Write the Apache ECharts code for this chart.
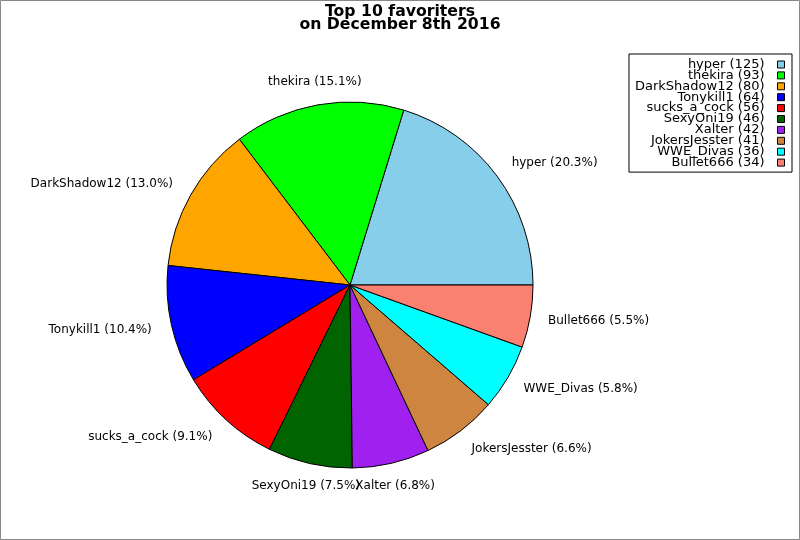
<!DOCTYPE html>
<html>
<head>
<meta charset="utf-8">
<script src="https://cdn.jsdelivr.net/npm/echarts@6/dist/echarts.min.js"></script>
<style>
html,body{margin:0;padding:0;background:#fff;}
#chart{width:800px;height:540px;}
</style>
</head>
<body>
<div id="chart"></div>
<script>
const categories = ['hyper','thekira','DarkShadow12','Tonykill1','sucks_a_cock','SexyOni19','Xalter','JokersJesster','WWE_Divas','Bullet666'];
const values = [125, 93, 80, 64, 56, 46, 42, 41, 36, 34];
const colors = ['#87CEEB','#00FF00','#FFA500','#0000FF','#FF0000','#006400','#A020F0','#CD853F','#00FFFF','#FA8072'];
const titleText = 'Top 10 favoriters\non December 8th 2016';

const total = values.reduce((a, b) => a + b, 0);
const valueByName = {};
categories.forEach((c, i) => { valueByName[c] = values[i]; });

const CX = 350, CY = 285, R = 183;
const FONT = 'DejaVu Sans';

const chart = echarts.init(document.getElementById('chart'), null, {renderer: 'canvas'});
chart.setOption({
  animation: false,
  backgroundColor: '#fff',
  color: colors,
  title: {
    text: titleText,
    left: 'center',
    top: 5,
    padding: 0,
    textStyle: {fontFamily: FONT, fontWeight: 'bold', fontSize: 15.7, lineHeight: 13.5, color: '#000'}
  },
  legend: {
    orient: 'vertical',
    right: 8,
    top: 54,
    align: 'right',
    padding: [4, 7, 3, 6],
    itemGap: -2.1,
    itemWidth: 7,
    itemHeight: 7,
    icon: 'rect',
    borderColor: '#000',
    borderWidth: 1,
    selectedMode: false,
    itemStyle: {borderColor: '#000', borderWidth: 1},
    data: categories,
    formatter: function (name) { return '{t|' + name + ' (' + valueByName[name] + ')}'; },
    textStyle: {
      fontFamily: FONT, fontSize: 13, color: '#000',
      rich: {t: {fontFamily: FONT, fontSize: 13, color: '#000', padding: [0, 8, 0, 0]}}
    }
  },
  graphic: [{
    type: 'rect',
    silent: true,
    z: 100,
    shape: {x: 0.5, y: 0.5, width: 799, height: 539},
    style: {fill: null, stroke: '#888', lineWidth: 1}
  }],
  series: [{
    type: 'pie',
    center: [CX, CY],
    radius: [0, R],
    startAngle: 0,
    clockwise: false,
    avoidLabelOverlap: false,
    emphasis: {disabled: true},
    itemStyle: {borderColor: '#000', borderWidth: 1},
    label: {
      show: true,
      position: 'outside',
      fontFamily: FONT,
      fontSize: 12,
      color: '#000',
      distanceToLabelLine: 0,
      formatter: function (p) { return p.name + ' (' + (p.value / total * 100).toFixed(1) + '%)'; }
    },
    labelLine: {show: true, length: 18, length2: 0, lineStyle: {opacity: 0, width: 0}},
    labelLayout: function (params) {
      const pts = params.labelLinePoints;
      if (!pts || !pts[1]) return {};
      const ax = pts[1][0], ay = pts[1][1];
      const dx = ax - CX, dy = ay - CY;
      const d = Math.sqrt(dx * dx + dy * dy) || 1;
      const c = dx / d, s = dy / d;
      let align = c > 0 ? 'left' : 'right';
      if (Math.abs(c) < 0.3) align = 'center';
      return {x: ax - (align === 'right' ? 2 : 0), y: ay + s * 5, align: align, verticalAlign: 'middle'};
    },
    data: categories.map((c, i) => ({name: c, value: values[i]}))
  }]
});
</script>
</body>
</html>
